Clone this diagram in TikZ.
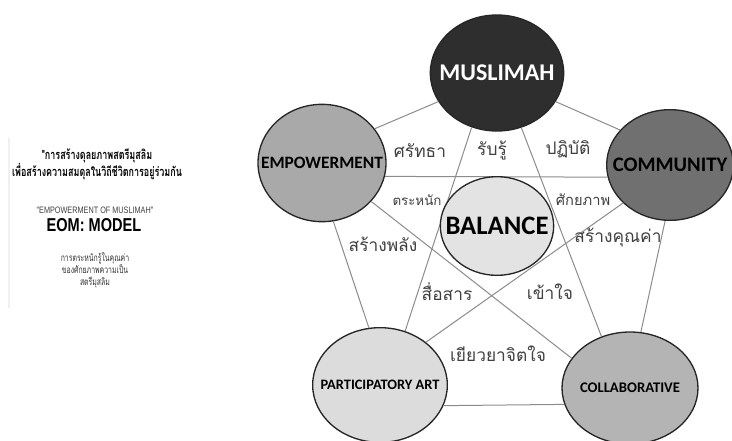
\documentclass[tikz,border=0pt]{standalone}
\usepackage{fontspec}
\usepackage{tikz}
\setmainfont{Carlito}
\newfontfamily\thaifont[Script=Thai]{Loma}
\newfontfamily\thaicond[Script=Thai,FakeStretch=0.7]{Loma}
\newfontfamily\condfont[FakeStretch=0.78]{Liberation Sans}
\usetikzlibrary{
  shapes.geometric,
  positioning
}
\definecolor{eomDark}{HTML}{2E2E2E}
\definecolor{eomEmp}{HTML}{A9A9A9}
\definecolor{eomCom}{HTML}{707070}
\definecolor{eomBal}{HTML}{E3E3E3}
\definecolor{eomPar}{HTML}{DCDCDC}
\definecolor{eomCol}{HTML}{B4B4B4}
\definecolor{eomLine}{HTML}{8C8C8C}
\definecolor{eomText}{HTML}{404040}
\tikzset{
  pillar/.style={draw=black!85, line width=1pt, ellipse, inner sep=0pt},
  word/.style={font=\bfseries, text=black, inner sep=0pt},
  link/.style={draw=eomLine, line width=0.75pt},
  tag/.style={font=\thaifont\fontsize{13}{15}\selectfont, text=eomText, inner sep=1pt},
  note/.style={align=center, inner sep=0pt}
}
\begin{document}
\begin{tikzpicture}[x=0.75pt, y=-0.75pt]
  \useasboundingbox (0,0) rectangle (732,440);
  \fill[white] (0,0) rectangle (732,440);

  % title panel
  \draw[black!6, line width=0.8pt] (9,138) -- (9,308);
  \node[note, font=\thaicond\bfseries\fontsize{9.6}{11}\selectfont] (title) at (97,164)
    {"การสร้างดุลยภาพสตรีมุสลิม\\[-1pt] เพื่อสร้างความสมดุลในวิถีชีวิตการอยู่ร่วมกัน};
  \node[note, font=\condfont\fontsize{7}{8}\selectfont, text=black!75] (sub) at (95,210)
    {"EMPOWERMENT OF MUSLIMAH"};
  \node[note, font=\condfont\bfseries\fontsize{14}{16}\selectfont] (eom) at (94,225) {EOM:\ MODEL};
  \node[note, font=\thaicond\fontsize{7.4}{9}\selectfont, text=black!80] (aware) at (95,270)
    {การตระหนักรู้ในคุณค่า\\ ของศักยภาพความเป็น\\ สตรีมุสลิม};

  % ellipses
  \node[pillar, fill=eomDark, minimum width=100pt, minimum height=87pt] (mus) at (497,73) {};
  \node[pillar, fill=eomEmp, minimum width=96pt, minimum height=88pt] (emp) at (322,163) {};
  \node[pillar, fill=eomCom, minimum width=95pt, minimum height=83pt] (com) at (670,165) {};
  \node[pillar, fill=eomPar, minimum width=101pt, minimum height=86pt] (par) at (380,385) {};
  \node[pillar, fill=eomCol, minimum width=102pt, minimum height=84pt] (col) at (630,388) {};

  % connectors
  \draw[link] (mus.206) -- (emp.33);
  \draw[link] (mus.334) -- (com.145);
  \draw[link] (emp.348) -- (com.191);
  \draw[link] (mus.245) -- (par.65);
  \draw[link] (mus.294) -- (col.119);
  \draw[link] (emp.322) -- (col.153);
  \draw[link] (com.219) -- (par.43);
  \draw[link] (emp.281) -- (par.101);
  \draw[link] (com.265) -- (col.79);
  \draw[link] (par.342) -- (col.194);

  \node[pillar, fill=eomBal, minimum width=85pt, minimum height=74pt] (bal) at (497,226) {};

  % names
  \node[word, text=white, font=\bfseries\fontsize{18}{20}\selectfont] (musT) at (mus) {MUSLIMAH};
  \node[word, font=\bfseries\fontsize{13}{15}\selectfont] (empT) at (emp) {EMPOWERMENT};
  \node[word, font=\bfseries\fontsize{15.5}{17}\selectfont] (comT) at (com) {COMMUNITY};
  \node[word, font=\bfseries\fontsize{20}{22}\selectfont] (balT) at (bal) {BALANCE};
  \node[word, font=\bfseries\fontsize{10.8}{12}\selectfont] (parT) at (par) {PARTICIPATORY ART};
  \node[word, font=\bfseries\fontsize{11}{13}\selectfont] (colT) at (col) {COLLABORATIVE};

  % thai tags
  \node[tag] (faith) at (420,151) {ศรัทธา};
  \node[tag] (perceive) at (492,151) {รับรู้};
  \node[tag] (practice) at (568,149) {ปฏิบัติ};
  \node[tag, font=\thaifont\fontsize{10}{12}\selectfont] (aware2) at (417,200) {ตระหนัก};
  \node[tag, font=\thaifont\fontsize{11}{13}\selectfont] (potential) at (583,200) {ศักยภาพ};
  \node[tag] (power) at (383,244) {สร้างพลัง};
  \node[tag] (value) at (618,238) {สร้างคุณค่า};
  \node[tag] (talk) at (447,292) {สื่อสาร};
  \node[tag] (grasp) at (550,292) {เข้าใจ};
  \node[tag] (heal) at (498,354) {เยียวยาจิตใจ};
\end{tikzpicture}
\end{document}
